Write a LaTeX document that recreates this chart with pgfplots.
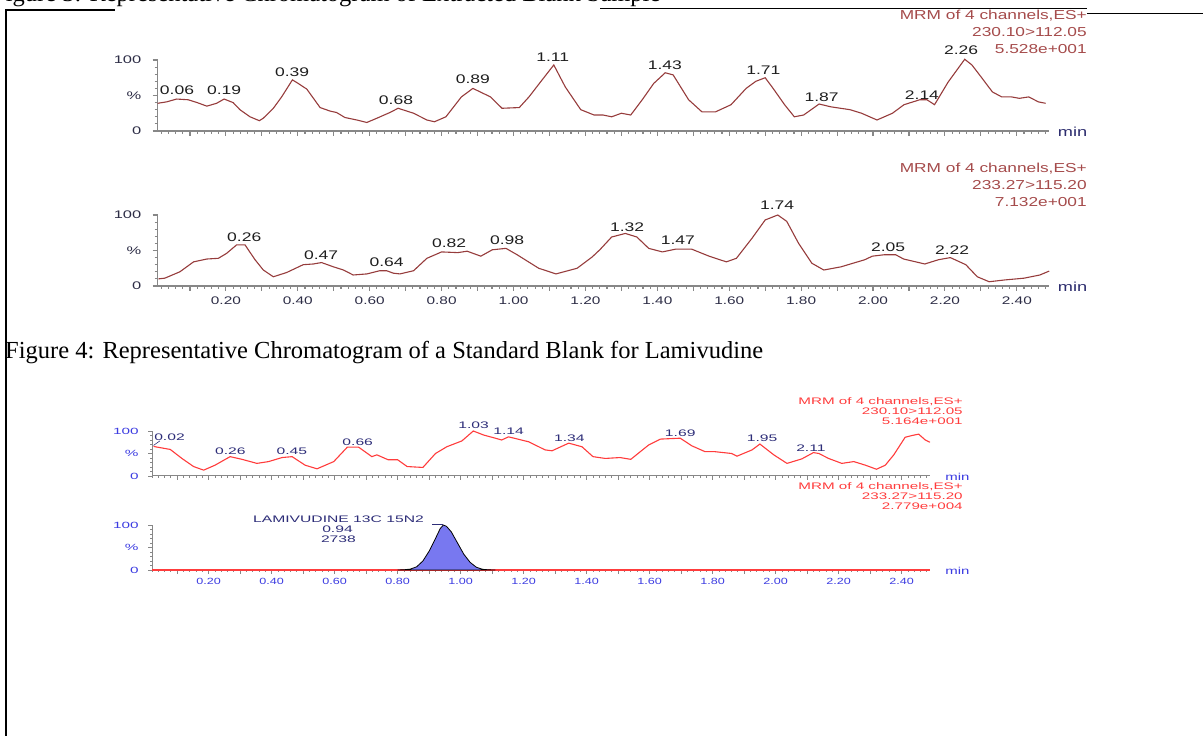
\documentclass[border=0pt]{standalone}
\usepackage{fontspec}
\setmainfont{Liberation Serif}
\newfontfamily\arial{Liberation Sans}
\usepackage{pgfplots}
\pgfplotsset{compat=1.18}

\definecolor{trA}{RGB}{150,60,60}
\definecolor{mrmA}{RGB}{165,75,75}
\definecolor{axg}{RGB}{135,135,135}
\definecolor{lblA}{RGB}{30,30,30}
\definecolor{tickA}{RGB}{45,45,70}
\definecolor{minA}{RGB}{45,45,110}
\definecolor{trC}{RGB}{255,60,60}
\definecolor{lblC}{RGB}{45,45,120}
\definecolor{tickC}{RGB}{60,60,225}
\definecolor{peakfill}{RGB}{120,120,240}

\tikzset{
 pkA/.style={font=\arial\fontsize{12.5}{14}\selectfont, text=lblA, xscale=1.4, inner sep=0pt},
 mrmAst/.style={font=\arial\fontsize{13}{16.7}\selectfont, text=mrmA, xscale=1.33, inner sep=0pt, align=right, anchor=north east},
 minAst/.style={font=\arial\fontsize{13}{15}\selectfont, text=minA, xscale=1.4, inner sep=0pt, anchor=west, xshift=6pt, yshift=-1pt},
 pkC/.style={font=\arial\fontsize{9.5}{10}\selectfont, text=lblC, xscale=1.65, inner sep=0pt},
 mrmCst/.style={font=\arial\fontsize{9.5}{10}\selectfont, text=trC, xscale=1.6, inner sep=0pt, align=right, anchor=north east},
 minCst/.style={font=\arial\fontsize{10}{11}\selectfont, text=tickC, xscale=1.5, inner sep=0pt, anchor=west, xshift=10pt, yshift=-1pt},
}

\pgfplotsset{
 chrombase/.style={
   scale only axis, clip=false, ymin=0, ymax=100,
   axis x line*=bottom, axis y line*=left,
   tick align=outside,
   xtick={0.1,0.2,0.3,0.4,0.5,0.6,0.7,0.8,0.9,1.0,1.1,1.2,1.3,1.4,1.5,1.6,1.7,1.8,1.9,2.0,2.1,2.2,2.3,2.4},
   xticklabels={,0.20,,0.40,,0.60,,0.80,,1.00,,1.20,,1.40,,1.60,,1.80,,2.00,,2.20,,2.40},
   minor xtick={0.02,0.04,...,2.48},
   ytick={0,50,100}, yticklabels={0,\%,100},
   minor ytick={10,20,30,40,60,70,80,90},
 },
 chromA/.style={chrombase,
   width=891.6pt, height=71pt, xmin=0.01, xmax=2.49,
   axis line style={-, draw=axg, line width=1.6pt},
   tick style={draw=axg, line width=1.1pt},
   major tick length=5pt, minor tick length=3pt,
   xticklabel style={font=\arial\fontsize{11}{12}\selectfont, text=tickA, xscale=1.4, yshift=-2pt},
   yticklabel style={font=\arial\fontsize{11}{12}\selectfont, text=tickA, xscale=1.5, xshift=-4pt},
 },
 chromC/.style={chrombase,
   width=778pt, height=45pt, xmin=0.02, xmax=2.49,
   axis line style={-, draw=axg, line width=1pt},
   tick style={draw=axg, line width=0.8pt},
   major tick length=4pt, minor tick length=2pt,
   xticklabel style={font=\arial\fontsize{9}{9}\selectfont, text=tickC, xscale=1.4, yshift=-1pt},
   yticklabel style={font=\arial\fontsize{9}{9}\selectfont, text=tickC, xscale=1.7, xshift=-2pt},
 },
}

\begin{document}
\begin{tikzpicture}[x=1pt,y=1pt]
\useasboundingbox (0,0) rectangle (1203,736);
\clip (0,0) rectangle (1203,736);

% page frame and cut-off line above
\node[anchor=base west, inner sep=0pt, font=\fontsize{24.5}{28}\selectfont] at (-8,734.5) {Figure 3: Representative Chromatogram of Extracted Blank Sample};
\draw[line width=1.5pt] (6,726) -- (6,-5);
\draw[line width=1.5pt] (5.25,726) -- (115,726);
\draw[line width=1.8pt] (600,727.5) -- (1087,727.5);
\draw[line width=1pt] (1087,722) -- (1210,722);

% ---------------- Chart 1, panel A ----------------
\begin{axis}[chromA, at={(157.6pt,605pt)}, anchor=south west, xticklabels={}]
\addplot[trA, line width=1.1pt] coordinates {
(0.01,39) (0.035,41) (0.063,45) (0.095,44) (0.12,40) (0.147,35) (0.174,39) (0.195,45)
(0.22,40) (0.239,30) (0.267,20) (0.293,14.5) (0.304,18) (0.332,32) (0.355,48) (0.385,72)
(0.401,67) (0.425,59) (0.462,33) (0.49,28) (0.508,26) (0.531,19) (0.564,15.5) (0.592,12)
(0.62,18) (0.656,26) (0.679,32) (0.722,25) (0.759,15.5) (0.78,13) (0.812,20) (0.855,48)
(0.887,60) (0.936,48) (0.968,32) (1.016,33) (1.043,48) (1.075,69) (1.112,93) (1.144,62)
(1.187,30) (1.224,22.5) (1.249,22.5) (1.273,20) (1.30,25) (1.326,22.5) (1.358,44) (1.39,67)
(1.422,82) (1.444,79) (1.487,44) (1.524,27) (1.562,27) (1.605,37) (1.647,60) (1.674,70)
(1.70,75) (1.722,60) (1.754,37) (1.781,20) (1.807,22.5) (1.85,38) (1.883,34) (1.936,30)
(1.968,25) (2.011,15.5) (2.054,25) (2.086,37) (2.13,44) (2.15,44) (2.171,37) (2.209,69)
(2.255,101) (2.275,93) (2.30,76.5) (2.332,55) (2.358,48) (2.385,48) (2.407,46) (2.433,48)
(2.46,41) (2.48,39)};
\node[pkA] at (axis cs:0.064,58) {0.06};
\node[pkA] at (axis cs:0.195,58) {0.19};
\node[pkA] at (axis cs:0.384,83.5) {0.39};
\node[pkA] at (axis cs:0.673,43.7) {0.68};
\node[pkA] at (axis cs:0.887,72.8) {0.89};
\node[pkA] at (axis cs:1.109,104.6) {1.11};
\node[pkA] at (axis cs:1.421,93) {1.43};
\node[pkA] at (axis cs:1.695,86) {1.71};
\node[pkA] at (axis cs:1.857,48) {1.87};
\node[pkA] at (axis cs:2.136,50.7) {2.14};
\node[pkA] at (axis cs:2.245,114) {2.26};
\node[minAst] at (rel axis cs:1,0) {min};
\end{axis}

% ---------------- Chart 1, panel B ----------------
\begin{axis}[chromA, at={(157.6pt,450pt)}, anchor=south west]
\addplot[trA, line width=1.1pt] coordinates {
(0.012,10) (0.03,11) (0.072,20) (0.11,34) (0.147,38) (0.179,39) (0.202,46) (0.23,58)
(0.253,58) (0.281,37) (0.304,22.5) (0.332,13) (0.369,19) (0.415,30) (0.443,31) (0.466,33)
(0.499,27) (0.527,22.5) (0.554,15.5) (0.592,17) (0.628,21.5) (0.647,21.5) (0.666,18) (0.684,17)
(0.722,21.5) (0.759,39) (0.80,48) (0.845,47) (0.871,49) (0.909,42) (0.941,51) (0.979,53)
(1.01,44) (1.07,25) (1.118,17) (1.177,25) (1.219,41) (1.24,51) (1.273,69) (1.311,74)
(1.343,69) (1.376,53) (1.414,48) (1.452,52) (1.495,52) (1.544,42) (1.592,34) (1.62,39)
(1.663,67) (1.70,93) (1.735,100) (1.76,91) (1.793,60) (1.83,32) (1.863,22.5) (1.911,27)
(1.977,37) (1.998,42) (2.031,44) (2.063,44) (2.085,38) (2.144,31) (2.182,37) (2.215,40)
(2.258,30) (2.29,13) (2.323,6) (2.366,8.5) (2.42,11) (2.464,15.5) (2.49,21)};
\node[pkA] at (axis cs:0.251,69) {0.26};
\node[pkA] at (axis cs:0.465,44) {0.47};
\node[pkA] at (axis cs:0.647,33) {0.64};
\node[pkA] at (axis cs:0.821,60) {0.82};
\node[pkA] at (axis cs:0.982,64) {0.98};
\node[pkA] at (axis cs:1.316,83.5) {1.32};
\node[pkA] at (axis cs:1.457,65) {1.47};
\node[pkA] at (axis cs:1.733,114) {1.74};
\node[pkA] at (axis cs:2.042,55) {2.05};
\node[pkA] at (axis cs:2.22,51) {2.22};
\node[minAst] at (rel axis cs:1,0) {min};
\end{axis}

\node[mrmAst] at (1087,726) {MRM of 4 channels,ES+\\230.10>112.05\\5.528e+001};
\node[mrmAst] at (1087,573) {MRM of 4 channels,ES+\\233.27>115.20\\7.132e+001};

% caption
\node[anchor=base west, inner sep=0pt, font=\fontsize{24.5}{28}\selectfont] at (5,377) {Figure 4: Representative Chromatogram of a Standard Blank for Lamivudine};

% ---------------- Chart 2, panel C ----------------
\begin{axis}[chromC, at={(152pt,260pt)}, anchor=south west, xticklabels={}]
\addplot[trC, line width=1.1pt] coordinates {
(0.025,66) (0.03,65) (0.078,59) (0.115,39) (0.152,21) (0.184,13) (0.22,24) (0.268,43)
(0.306,37) (0.353,28) (0.39,32) (0.433,41) (0.465,43) (0.506,24) (0.544,16) (0.597,32)
(0.64,64) (0.676,64) (0.718,43) (0.734,47) (0.77,36) (0.80,36) (0.83,21) (0.88,19)
(0.92,50) (0.956,65) (1.004,78) (1.04,100) (1.073,91) (1.11,84) (1.13,80) (1.152,87)
(1.216,76) (1.268,58) (1.29,56) (1.343,73) (1.385,65) (1.42,43) (1.459,39) (1.506,41)
(1.54,37) (1.597,69) (1.634,82) (1.697,84) (1.734,67) (1.776,54) (1.808,54) (1.86,50)
(1.877,44) (1.925,58) (1.95,71) (1.994,47) (2.036,28) (2.083,38) (2.12,52) (2.137,50)
(2.168,39) (2.21,28) (2.248,32) (2.285,24) (2.32,15) (2.348,24) (2.375,47) (2.411,86)
(2.433,90) (2.454,93) (2.475,80) (2.49,75)};
\draw[lblC, line width=0.6pt] (axis cs:0.025,68) -- (axis cs:0.045,78);
\node[pkC] at (axis cs:0.0756,87) {0.02};
\node[pkC] at (axis cs:0.269,55.5) {0.26};
\node[pkC] at (axis cs:0.464,55.5) {0.45};
\node[pkC] at (axis cs:0.673,76) {0.66};
\node[pkC] at (axis cs:1.041,113) {1.03};
\node[pkC] at (axis cs:1.152,98.5) {1.14};
\node[pkC] at (axis cs:1.345,84) {1.34};
\node[pkC] at (axis cs:1.697,95) {1.69};
\node[pkC] at (axis cs:1.957,84) {1.95};
\node[pkC] at (axis cs:2.112,61.5) {2.11};
\node[minCst] at (rel axis cs:1,0) {min};
\end{axis}

% ---------------- Chart 2, panel D ----------------
\begin{axis}[chromC, at={(152pt,166pt)}, anchor=south west]
\addplot[trC, line width=1.1pt] coordinates {(0.02,0) (2.49,0)};
\addplot[fill=peakfill, draw=black, line width=0.8pt] coordinates {
(0.80,0) (0.82,0.5) (0.84,2) (0.86,7) (0.88,20) (0.90,42) (0.92,70) (0.935,92)
(0.945,100) (0.955,97) (0.97,85) (0.99,60) (1.01,35) (1.03,17) (1.05,6) (1.07,1.5)
(1.09,0.3) (1.11,0)} \closedcycle;
\draw[lblC, line width=0.6pt] (axis cs:0.91,102) -- (axis cs:0.945,102);
\node[pkC] at (axis cs:0.612,113) {LAMIVUDINE 13C 15N2};
\node[pkC] at (axis cs:0.609,91) {0.94};
\node[pkC] at (axis cs:0.612,68) {2738};
\node[minCst] at (rel axis cs:1,0) {min};
\end{axis}

\node[mrmCst] at (963,339) {MRM of 4 channels,ES+\\230.10>112.05\\5.164e+001};
\node[mrmCst] at (963,254) {MRM of 4 channels,ES+\\233.27>115.20\\2.779e+004};

\end{tikzpicture}
\end{document}
